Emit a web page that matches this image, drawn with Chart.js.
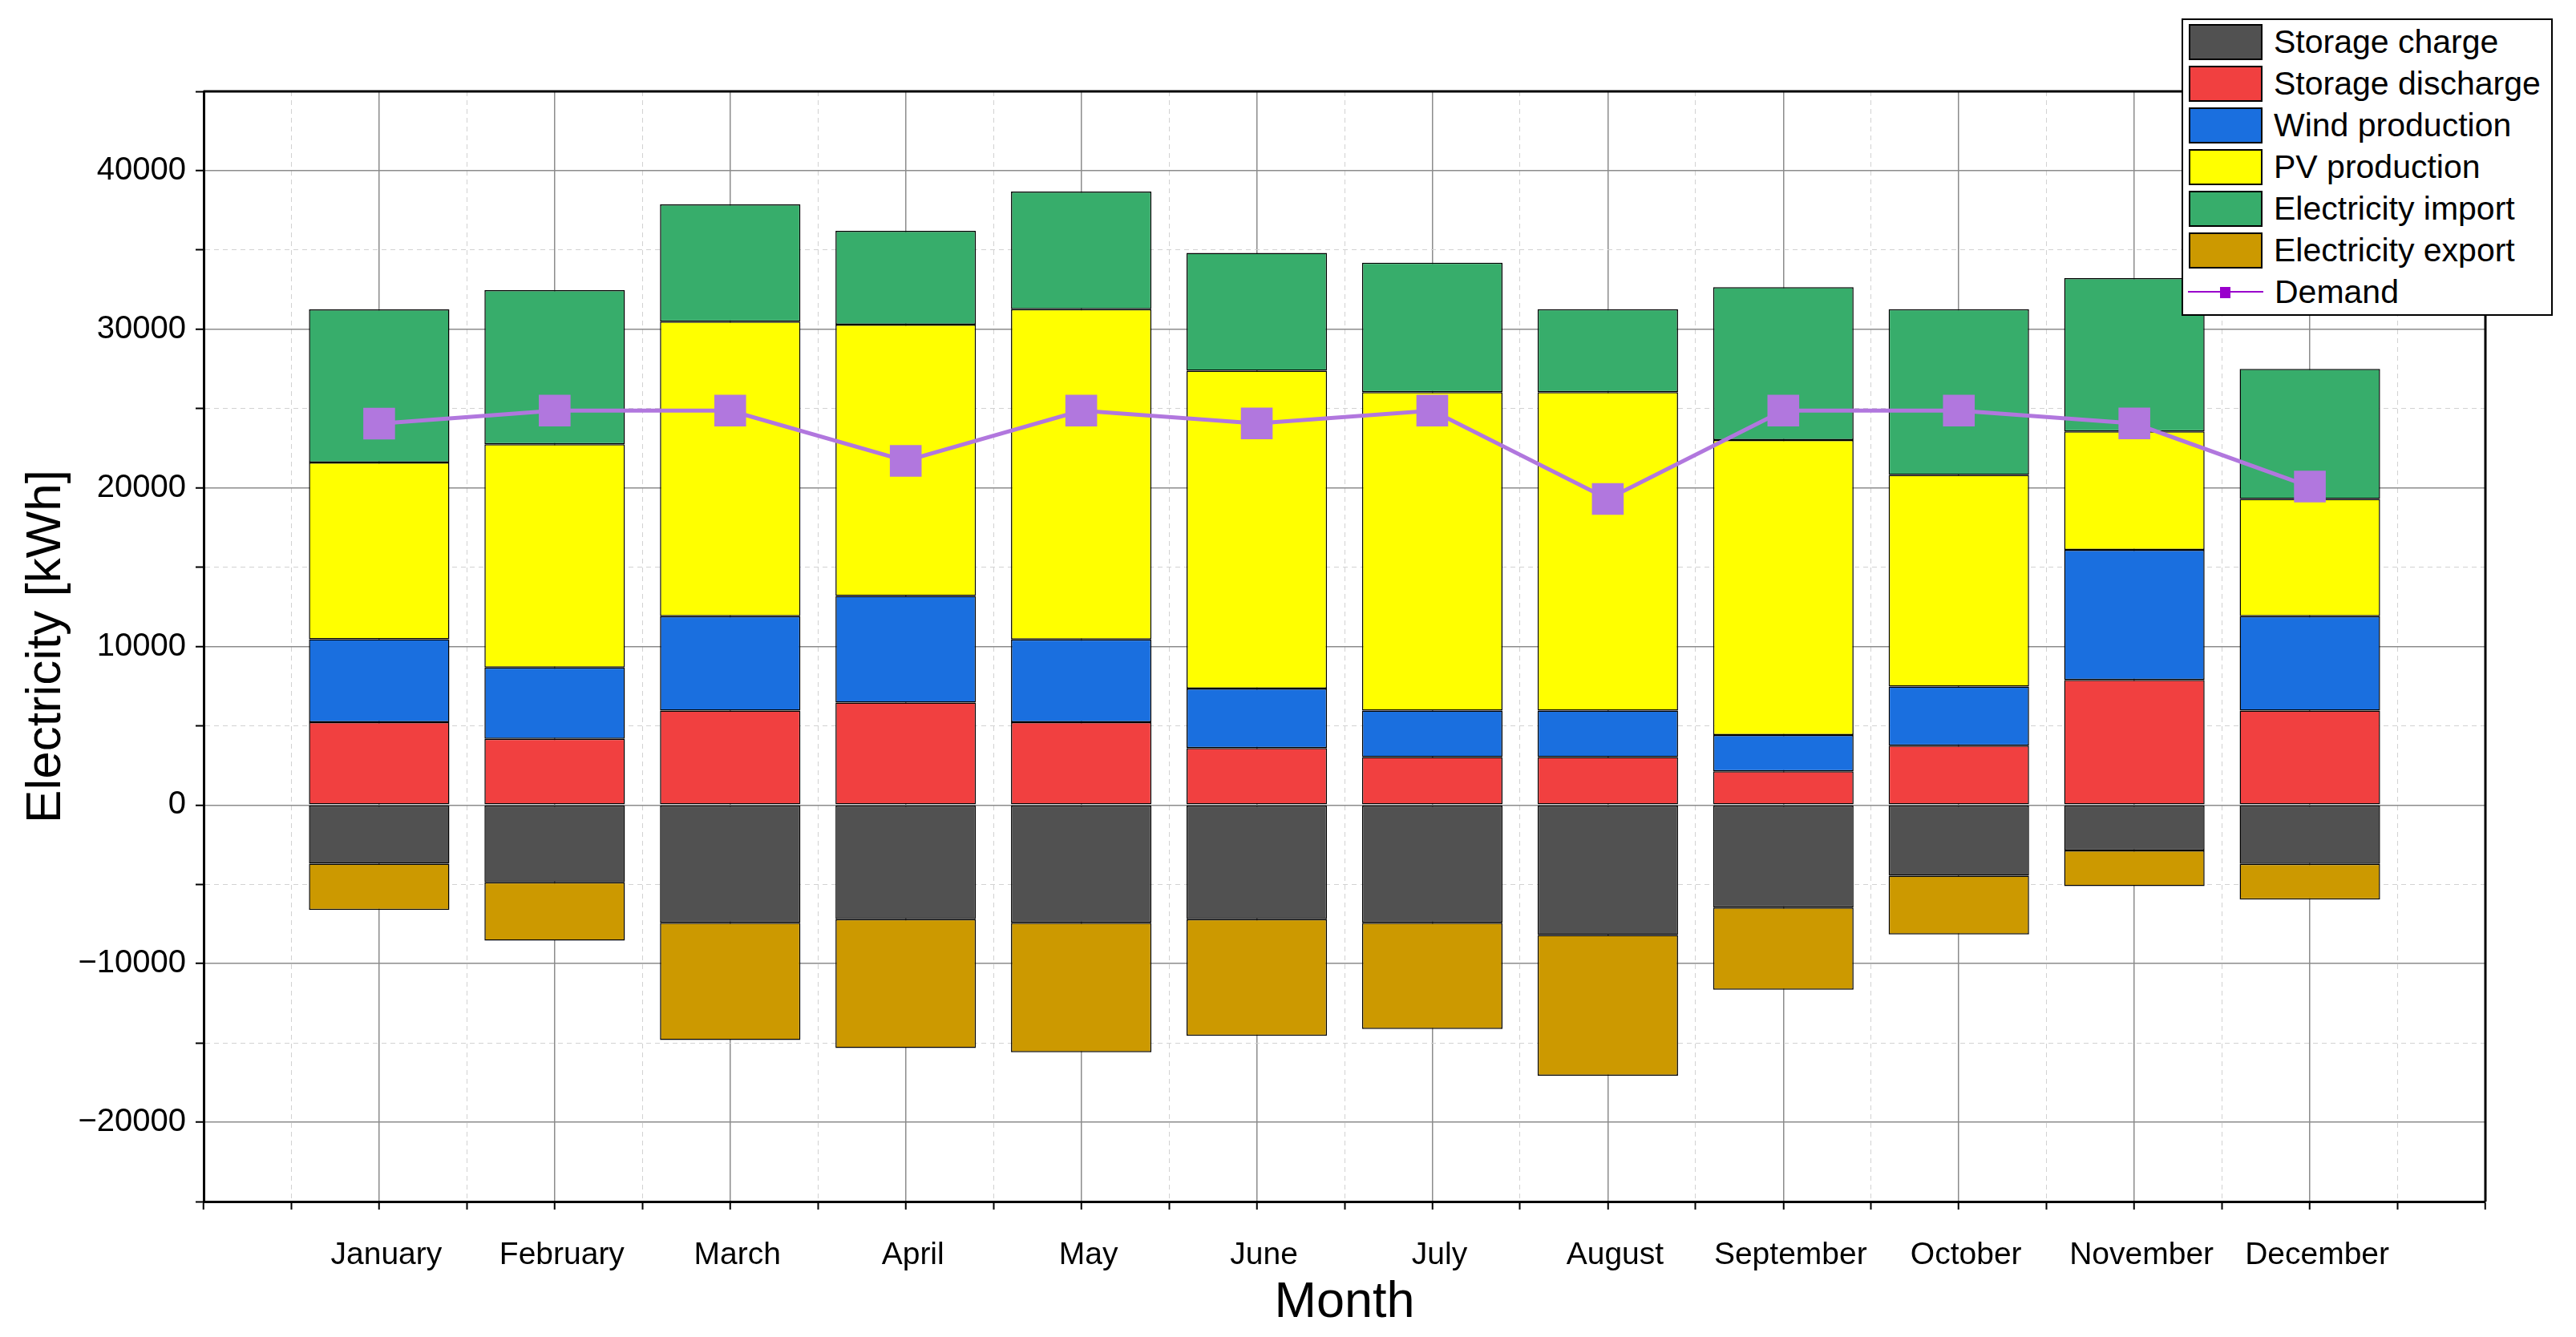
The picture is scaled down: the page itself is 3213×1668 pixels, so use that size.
<!DOCTYPE html>
<html>
<head>
<meta charset="utf-8">
<title>Monthly electricity balance</title>
<script src="https://cdn.jsdelivr.net/npm/chart.js@4.4.1/dist/chart.umd.min.js"></script>
<style>
  html, body { margin: 0; padding: 0; background: #fff; }
  #wrap { position: relative; width: 3213px; height: 1668px; }
  #legend {
    position: absolute; left: 2721px; top: 23px;
    width: 463px; height: 371px; box-sizing: border-box;
    border: 2px solid #000; background: #fff;
    padding-top: 1px;
    font-family: 'Liberation Sans', Arial, sans-serif; font-size: 41px; color: #000;
  }
  #legend .row { display: flex; align-items: center; height: 52px; }
  #legend .swatch { width: 92px; height: 45px; box-sizing: border-box; border: 2px solid #000; margin-left: 7px; }
  #legend .lineKey { position: relative; width: 94px; height: 45px; margin-left: 6px; }
  #legend .lineKey .ln { position: absolute; left: 0; right: 0; top: 21px; height: 2px; }
  #legend .lineKey .mk { position: absolute; left: 40px; top: 16px; width: 13px; height: 14px; }
  #legend .txt { margin-left: 14px; white-space: nowrap; }
</style>
</head>
<body>
<div id="wrap">
  <canvas id="energyChart" width="3213" height="1668"></canvas>
  <div id="legend"></div>
</div>
<script>
"use strict";

// Monthly values (kWh)
const months = ['January', 'February', 'March', 'April', 'May', 'June',
                'July', 'August', 'September', 'October', 'November', 'December'];
const storageCharge = [-3700, -4870, -7430, -7200, -7430, -7200, -7430, -8200, -6460, -4450, -2860, -3710];
const storageDischarge = [5220, 4180, 5960, 6460, 5220, 3600, 3020, 3020, 2130, 3750, 7890, 5960];
const windProduction = [5230, 4490, 5950, 6730, 5220, 3750, 2940, 2940, 2280, 3720, 8200, 5950];
const pvProduction = [11150, 14080, 18570, 17100, 20820, 20040, 20070, 20070, 18610, 13340, 7470, 7390];
const electricityImport = [9650, 9710, 7390, 5920, 7420, 7430, 8170, 5230, 9630, 10450, 9670, 8200];
const electricityExport = [-2910, -3680, -7390, -8120, -8160, -7350, -6690, -8860, -5180, -3710, -2250, -2250];
const demand = [24050, 24870, 24870, 21700, 24870, 24060, 24870, 19300, 24870, 24870, 24060, 20080];

// labelled y ticks (the 5000 steps in between get a dashed minor grid line)
const yTickLabels = [-20000, -10000, 0, 10000, 20000, 30000, 40000];

const FONT = "'Liberation Sans', Arial, sans-serif";
Chart.defaults.font.family = FONT;
Chart.defaults.color = '#000';

// month i sits at x = i + 1 on a 0..13 linear axis
function toPoints(values) {
    return values.map((v, i) => ({ x: i + 1, y: v }));
}

function barSet(label, values, color) {
    return {
        type: 'bar',
        label: label,
        data: toPoints(values),
        backgroundColor: color,
        borderColor: '#000',
        borderWidth: 1.5,
        borderSkipped: false,
        stack: 'energy',
        // ruler uses the 0.5 tick spacing, so 1.6 gives 80% of a month slot
        categoryPercentage: 1.6,
        barPercentage: 1.0
    };
}

const isMajorX = v => Number.isInteger(v);
const isMajorY = v => v % 10000 === 0;

function gridStyle(isMajor) {
    return {
        color: ctx => (ctx.tick && !isMajor(ctx.tick.value)) ? '#d2d2d2' : '#8c8c8c',
        lineWidth: ctx => (ctx.tick && !isMajor(ctx.tick.value)) ? 1 : 1.5,
        drawTicks: true,
        tickLength: 10,
        tickColor: '#000',
        tickWidth: 2
    };
}

function borderStyle(isMajor) {
    return {
        display: true,
        color: '#000',
        width: 3,
        dash: ctx => (ctx.tick && !isMajor(ctx.tick.value)) ? [6, 5] : []
    };
}

// top and right edges of the frame
const frameLines = {
    id: 'frameLines',
    afterDraw(chart) {
        const { ctx, chartArea: a } = chart;
        ctx.save();
        ctx.strokeStyle = '#000';
        ctx.lineWidth = 3;
        ctx.beginPath();
        ctx.moveTo(a.left, a.top);
        ctx.lineTo(a.right, a.top);
        ctx.lineTo(a.right, a.bottom);
        ctx.stroke();
        ctx.restore();
    }
};

const chart = new Chart(document.getElementById('energyChart'), {
    data: {
        datasets: [
            barSet('Storage charge', storageCharge, '#515151'),
            barSet('Storage discharge', storageDischarge, '#F14040'),
            barSet('Wind production', windProduction, '#1A6FDF'),
            barSet('PV production', pvProduction, '#FFFF00'),
            barSet('Electricity import', electricityImport, '#37AD6B'),
            barSet('Electricity export', electricityExport, '#CC9900'),
            {
                type: 'line',
                label: 'Demand',
                data: toPoints(demand),
                borderColor: '#B177DE',
                backgroundColor: '#B177DE',
                borderWidth: 5,
                pointStyle: 'rect',
                pointRadius: 28,
                pointHoverRadius: 28,
                pointBorderWidth: 0,
                pointBackgroundColor: '#B177DE',
                stack: 'demand',
                order: -1,
                legendColor: '#9900CC'
            }
        ]
    },
    options: {
        responsive: false,
        devicePixelRatio: 1,
        animation: false,
        layout: { padding: { top: 114, right: 113, bottom: 0, left: 0 } },
        plugins: {
            legend: { display: false },
            tooltip: { enabled: false }
        },
        scales: {
            x: {
                type: 'linear',
                min: 0,
                max: 13,
                offset: false,
                stacked: true,
                afterFit: scale => { scale.height = 169; },
                grid: Object.assign({ offset: false }, gridStyle(isMajorX)),
                border: borderStyle(isMajorX),
                ticks: {
                    stepSize: 0.5,
                    autoSkip: false,
                    maxRotation: 0,
                    minRotation: 0,
                    padding: 34,
                    labelOffset: 9,
                    font: { size: 39 },
                    color: '#000',
                    callback: v => (isMajorX(v) && v >= 1 && v <= months.length) ? months[v - 1] : ''
                },
                title: {
                    display: true,
                    text: 'Month',
                    color: '#000',
                    font: { size: 63 },
                    padding: { top: 0, bottom: 5 }
                }
            },
            y: {
                min: -25000,
                max: 45000,
                stacked: true,
                afterFit: scale => { scale.width = 254; },
                grid: gridStyle(isMajorY),
                border: borderStyle(isMajorY),
                ticks: {
                    stepSize: 5000,
                    autoSkip: false,
                    padding: 12,
                    font: { size: 40 },
                    color: '#000',
                    callback: v => yTickLabels.includes(v) ? String(v).replace('-', '\u2212') : ''
                },
                title: {
                    display: true,
                    text: 'Electricity [kWh]',
                    color: '#000',
                    font: { size: 62 },
                    padding: { top: 21, bottom: 0 }
                }
            }
        }
    },
    plugins: [frameLines]
});

// HTML legend built from the datasets
function buildLegend(chart) {
    const box = document.getElementById('legend');
    chart.data.datasets.forEach(ds => {
        const row = document.createElement('div');
        row.className = 'row';
        let key;
        if (ds.type === 'line') {
            key = document.createElement('div');
            key.className = 'lineKey';
            const ln = document.createElement('div');
            ln.className = 'ln';
            ln.style.background = ds.legendColor;
            const mk = document.createElement('div');
            mk.className = 'mk';
            mk.style.background = ds.legendColor;
            key.appendChild(ln);
            key.appendChild(mk);
        } else {
            key = document.createElement('div');
            key.className = 'swatch';
            key.style.background = ds.backgroundColor;
        }
        const txt = document.createElement('span');
        txt.className = 'txt';
        txt.textContent = ds.label;
        row.appendChild(key);
        row.appendChild(txt);
        box.appendChild(row);
    });
}

buildLegend(chart);
</script>
</body>
</html>
